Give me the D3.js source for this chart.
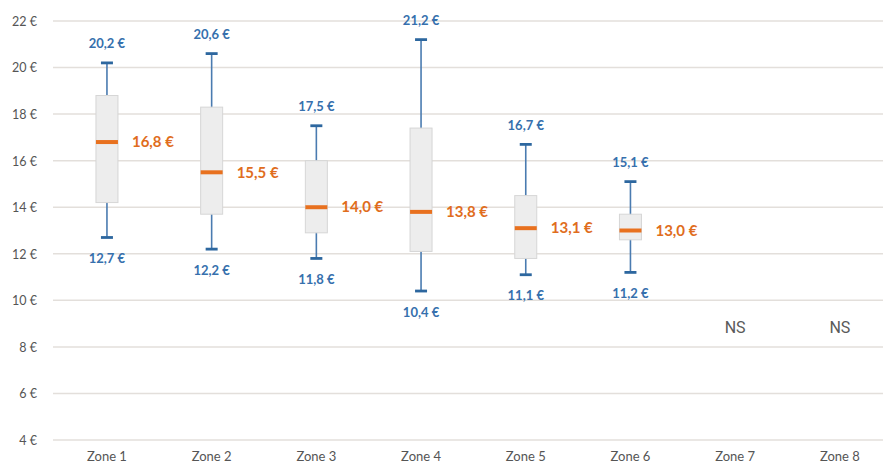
<!DOCTYPE html>
<html><head><meta charset="utf-8">
<script src="https://cdn.jsdelivr.net/npm/d3@7"></script>
<style>
html,body{margin:0;padding:0;background:#fff;}
svg{display:block;}
</style></head>
<body>
<svg id="chart" width="883" height="466"></svg>
<script>
const categories = ["Zone 1","Zone 2","Zone 3","Zone 4","Zone 5","Zone 6","Zone 7","Zone 8"];
const minValues    = [12.7, 12.2, 11.8, 10.4, 11.1, 11.2, null, null];
const q1Values     = [14.2, 13.7, 12.9, 12.1, 11.8, 12.6, null, null];
const medianValues = [16.8, 15.5, 14.0, 13.8, 13.1, 13.0, null, null];
const q3Values     = [18.8, 18.3, 16.0, 17.4, 14.5, 13.7, null, null];
const maxValues    = [20.2, 20.6, 17.5, 21.2, 16.7, 15.1, null, null];
const nsLabel = "NS";
const nsValue = 8.85;
const yTicks = [4,6,8,10,12,14,16,18,20,22];

const fmt = v => v.toFixed(1).replace(".", ",") + " €";

const svg = d3.select("#chart");
const x = d3.scaleBand().domain(categories).range([54.6, 892.2]).paddingInner(0).paddingOuter(0);
const y = d3.scaleLinear().domain([4, 22]).range([440, 21]);
const cx = c => x(c) + x.bandwidth() / 2;

// gridlines
svg.append("g").selectAll("line").data(yTicks).join("line")
  .attr("x1", 53).attr("x2", 883)
  .attr("y1", d => y(d)).attr("y2", d => y(d))
  .attr("stroke", "#e3dfdb").attr("stroke-width", 1.5);

const font = "Lato, 'Open Sans', sans-serif";

// y axis labels
const yAxis = d3.axisLeft(y).tickValues(yTicks).tickSize(0).tickPadding(0).tickFormat(d => d + " €");
const ya = svg.append("g").attr("transform", "translate(37,0)").call(yAxis);
ya.select(".domain").remove();
ya.selectAll("text").attr("fill", "#555555").style("font-family", font).style("font-size", "12.5px").attr("dy", "0.35em");

// x axis labels
const xAxis = d3.axisBottom(x).tickSize(0).tickPadding(0);
const xa = svg.append("g").attr("transform", "translate(0,456)").call(xAxis);
xa.select(".domain").remove();
xa.selectAll("text").attr("fill", "#555555").style("font-family", font).style("font-size", "13px").attr("dy", "0.35em");

const data = categories.map((c, i) => ({c, min: minValues[i], q1: q1Values[i], med: medianValues[i], q3: q3Values[i], max: maxValues[i]}));
const boxes = data.filter(d => d.med != null);
const ns = data.filter(d => d.med == null);

const boxW = 22, capW = 12;
const whiskerColor = "#4a7bb0";
const g = svg.append("g");

// whiskers
g.selectAll(".wl").data(boxes).join("line")
  .attr("x1", d => cx(d.c)).attr("x2", d => cx(d.c))
  .attr("y1", d => y(d.max)).attr("y2", d => y(d.min))
  .attr("stroke", whiskerColor).attr("stroke-width", 1.6);
g.selectAll(".capT").data(boxes).join("line")
  .attr("x1", d => cx(d.c) - capW/2).attr("x2", d => cx(d.c) + capW/2)
  .attr("y1", d => y(d.max)).attr("y2", d => y(d.max))
  .attr("stroke", "#2d679f").attr("stroke-width", 2.8);
g.selectAll(".capB").data(boxes).join("line")
  .attr("x1", d => cx(d.c) - capW/2).attr("x2", d => cx(d.c) + capW/2)
  .attr("y1", d => y(d.min)).attr("y2", d => y(d.min))
  .attr("stroke", "#2d679f").attr("stroke-width", 2.8);

// boxes
g.selectAll(".box").data(boxes).join("rect")
  .attr("x", d => cx(d.c) - boxW/2).attr("width", boxW)
  .attr("y", d => y(d.q3)).attr("height", d => y(d.q1) - y(d.q3))
  .attr("fill", "#ededed").attr("stroke", "#d6d6d6").attr("stroke-width", 1);

// medians
g.selectAll(".med").data(boxes).join("line")
  .attr("x1", d => cx(d.c) - boxW/2).attr("x2", d => cx(d.c) + boxW/2)
  .attr("y1", d => y(d.med)).attr("y2", d => y(d.med))
  .attr("stroke", "#e8711f").attr("stroke-width", 4);

// max labels
g.selectAll(".maxL").data(boxes).join("text")
  .attr("x", d => cx(d.c)).attr("y", d => y(d.max) - 19)
  .attr("text-anchor", "middle").attr("dy", "0.35em")
  .attr("fill", "#3670ad").style("font-family", font).style("font-size", "13px").style("font-weight", "bold")
  .text(d => fmt(d.max));
// min labels
g.selectAll(".minL").data(boxes).join("text")
  .attr("x", d => cx(d.c)).attr("y", d => y(d.min) + 21)
  .attr("text-anchor", "middle").attr("dy", "0.35em")
  .attr("fill", "#3670ad").style("font-family", font).style("font-size", "13px").style("font-weight", "bold")
  .text(d => fmt(d.min));
// median labels
g.selectAll(".medL").data(boxes).join("text")
  .attr("x", d => cx(d.c) + boxW/2 + 14).attr("y", d => y(d.med))
  .attr("text-anchor", "start").attr("dy", "0.35em")
  .attr("fill", "#e06d1d").style("font-family", font).style("font-size", "15px").style("font-weight", "bold")
  .text(d => fmt(d.med));

// NS labels
g.selectAll(".ns").data(ns).join("text")
  .attr("x", d => cx(d.c)).attr("y", y(nsValue))
  .attr("text-anchor", "middle").attr("dy", "0.35em")
  .attr("fill", "#5a5a5a").style("font-family", "Roboto, 'Liberation Sans', sans-serif").style("font-size", "16px")
  .text(nsLabel);
</script>
</body></html>
